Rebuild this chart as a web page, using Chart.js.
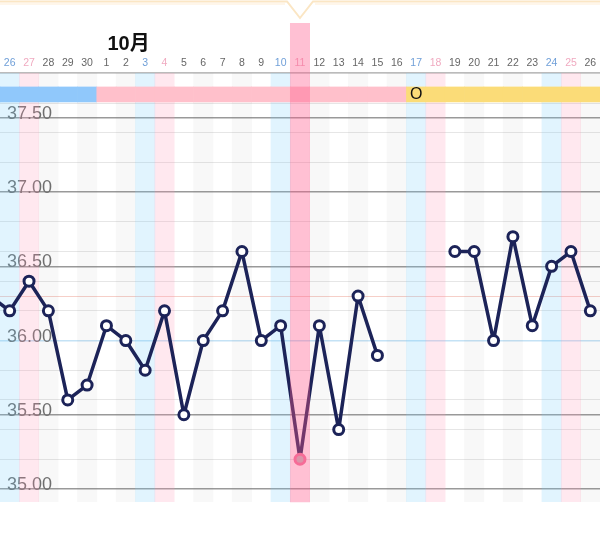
<!DOCTYPE html>
<html><head><meta charset="utf-8">
<style>html,body{margin:0;padding:0;background:#fff;overflow:hidden}
#w{position:relative;width:600px;height:535px}
canvas{display:block}
svg{position:absolute;left:0;top:0;pointer-events:none}</style>
<script src="https://cdn.jsdelivr.net/npm/chart.js@4/dist/chart.umd.min.js"></script>
</head><body><div id="w"><canvas id="c" width="600" height="535"></canvas>
<svg width="600" height="30"><path d="M0 1.5H287L300 18L313 1.5H600" fill="none" stroke="#fbe6c4" stroke-width="2"/><path d="M0 4H285M315 4H600" stroke="#fff6ea" stroke-width="2" fill="none"/></svg>
</div>
<script>
const days=['25','26','27','28','29','30','1','2','3','4','5','6','7','8','9','10','11','12','13','14','15','16','17','18','19','20','21','22','23','24','25','26'];
const temps=[36.3,36.2,36.4,36.2,35.6,35.7,36.1,36.0,35.8,36.2,35.5,36.0,36.2,36.6,36.0,36.1,35.2,36.1,35.4,36.3,35.9,null,null,null,36.6,36.6,36.0,36.7,36.1,36.5,36.6,36.2];
const dayKind=['w','b','p','g','w','g','w','g','b','p','w','g','w','g','w','b','t','g','w','g','w','g','b','p','w','g','w','g','w','b','p','g'];
const phase=['m','m','m','m','m','m','f','f','f','f','f','f','f','f','f','f','f','f','f','f','f','f','o','o','o','o','o','o','o','o','o','o'];
const markerLabel={22:'O'};
const monthLabel={6:'10月'};
const yTicks=[35,35.5,36,36.5,37,37.5];
const coverLine=36.3, baseLine=36.0;
const highlightIndex=16;

const Y0=34.912, Y1=37.803, Ytop=38.138, barLo=37.608, barHi=37.709;
const kindColor={w:'rgba(255,255,255,0)',g:'rgba(120,120,120,.055)',b:'rgba(120,205,250,.22)',p:'rgba(255,150,180,.22)',t:'rgba(0,0,0,0)'};
const phaseColor={m:'#90c8fb',f:'#ffc0cb',o:'#fbdc78'};
const tickColor=i=>{const k=dayKind[i];return k==='b'?'#6f9fd8':k==='p'||k==='t'?'#f0aac0':'#666'};
const textPlugin={id:'txt',afterDatasetsDraw(ch){const x=ch.scales.x,y=ch.scales.y,g=ch.ctx;g.save();
 g.fillStyle='#111';g.textBaseline='middle';
 g.font='bold 20px "Liberation Sans","Noto Sans CJK JP"';g.textAlign='left';
 for(const i in monthLabel)g.fillText(monthLabel[i],x.getPixelForValue(+i)+1,44);
 g.font='16px "Liberation Sans"';g.textAlign='center';
 for(const i in markerLabel)g.fillText(markerLabel[i],x.getPixelForValue(+i),y.getPixelForValue((barLo+barHi)/2));
 g.restore();}};
new Chart(document.getElementById('c'),{
 data:{labels:days,datasets:[
  {type:'line',order:1,data:temps,borderColor:'#1c2358',borderWidth:3.5,borderJoinStyle:'round',spanGaps:false,tension:0,
   pointRadius:5,pointHoverRadius:5,pointBorderWidth:3,
   pointBackgroundColor:c=>c.dataIndex===highlightIndex?'#c4b8bc':'#fff',
   pointBorderColor:c=>c.dataIndex===highlightIndex?'#f0789f':'#1c2358'},
  {type:'bar',order:0,clip:false,data:days.map((d,i)=>i===highlightIndex?[Y0,Ytop]:null),backgroundColor:'rgba(255,90,140,.38)',barPercentage:1,categoryPercentage:1,grouped:false},
  {type:'bar',order:2,data:phase.map(()=>[barLo,barHi]),backgroundColor:phase.map(p=>phaseColor[p]),barPercentage:1,categoryPercentage:1,grouped:false},
  {type:'bar',order:3,data:dayKind.map(()=>[Y0,Y1]),backgroundColor:dayKind.map(k=>kindColor[k]),barPercentage:1,categoryPercentage:1,grouped:false}
 ]},
 plugins:[textPlugin],
 options:{responsive:false,animation:false,
  layout:{autoPadding:false,padding:{top:53,left:0,right:0,bottom:33}},
  plugins:{legend:{display:false},tooltip:{enabled:false}},
  scales:{
   x:{type:'category',position:'top',min:1,max:31,offset:true,
      afterFit(s){s.height=20;s.paddingLeft=0;s.paddingRight=0},
      border:{display:true,color:'#bbb',width:1.5},
      grid:{display:false,drawTicks:false},
      ticks:{autoSkip:false,maxRotation:0,padding:4,font:{size:10.5,family:'"Liberation Sans"'},color:c=>tickColor(c.index+1)}},
   y:{type:'linear',min:Y0,max:Y1,position:'left',
      border:{display:false},
      afterFit(s){s.width=0;s.paddingTop=0;s.paddingBottom=0},
      grid:{drawTicks:false,lineWidth:c=>{const v=Math.round(c.tick.value*10);return v%5===0?1.5:1},
        color:c=>{const raw=c.tick.value,v=Math.round(raw*10);
          if(Math.abs(raw*10-v)>1e-6)return 'rgba(0,0,0,0)';
          if(yTicks.includes(v/10)&&v!==baseLine*10)return '#999';
          if(v===Math.round(coverLine*10))return '#f6cfc8';
          if(v===baseLine*10)return '#c4e2f5';
          return v%2===0?'#e6e6e6':'rgba(0,0,0,0)';}},
      ticks:{stepSize:.1,autoSkip:false,includeBounds:false,mirror:true,padding:7,labelOffset:-4,
        font:{size:18,family:'"Liberation Sans"'},color:'#6e6e6e',
        callback:v=>yTicks.includes(Math.round(v*10)/10)&&Math.abs(v*10-Math.round(v*10))<1e-6?(Math.round(v*10)/10).toFixed(2):''}}
  }}
});
</script></body></html>
